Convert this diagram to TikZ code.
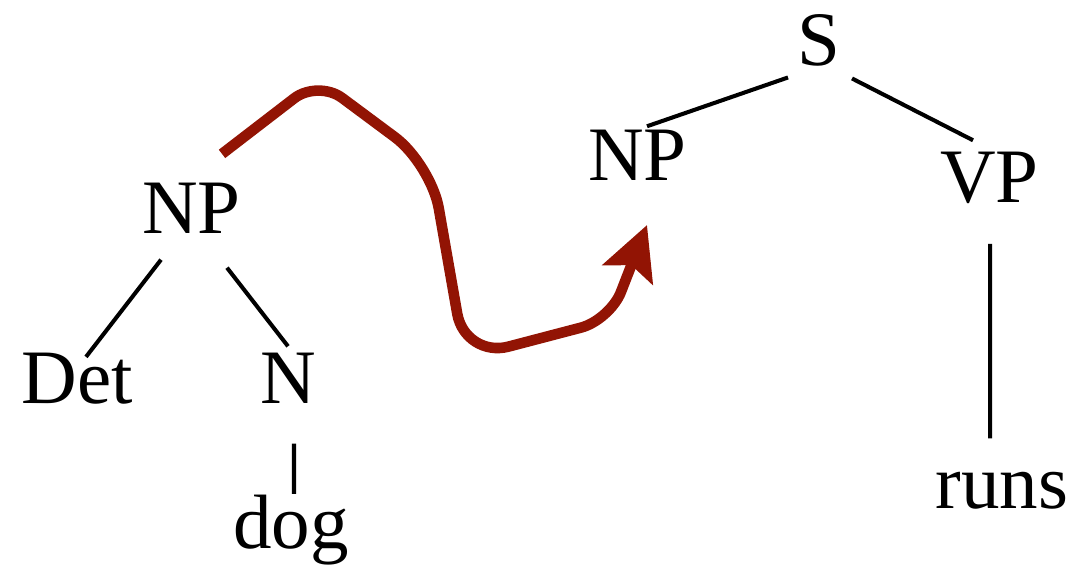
\documentclass[tikz,border=0pt]{standalone}
\usepackage{fontspec}
\setmainfont{Liberation Serif}
\usetikzlibrary{calc, arrows.meta}
\definecolor{movered}{RGB}{146,20,4}
\tikzset{
	cat/.style={font=\fontsize{21.9pt}{24pt}\selectfont, inner sep=0pt, anchor=base},
	branch/.style={line width=1.15pt, black},
	move/.style={line width=3pt, movered, rounded corners=0.3cm,
		-{Stealth[length=5.3mm, width=5.3mm, inset=1mm]}}
}

\begin{document}
\begin{tikzpicture}[x=0.01cm, y=-0.01cm]
	\useasboundingbox (0,0) rectangle (1083,566);
	
	% the moved subtree
	\node[cat] (NPL) at (191.5,233) {NP};
	\node[cat] (Det) at (77.5,403) {Det};
	\node[cat] (N) at (288.5,403) {N};
	\node[cat] (Dog) at (291,548) {dog};
	
	% the main tree
	\node[cat] (S) at (819,65) {S};
	\node[cat] (NPR) at (637.5,180) {NP};
	\node[cat] (VP) at (989.5,202) {VP};
	\node[cat] (Runs) at (1002,508) {runs};
	
	\draw[branch]
	($(NPL.south)+(-30.5,26)$) -- ($(Det.north)+(8.5,5)$)
	($(NPL.south)+(35.5,34)$) -- ($(N.north)+(-0.5,-5.6)$)
	($(N.south)+(5.5,40)$) -- ($(Dog.north)+(3,0)$)
	
	($(S.south)+(-31,11)$) -- ($(NPR.north)+(9.5,-2.6)$)
	($(S.south)+(33,12)$) -- ($(VP.north)+(-16.5,-10.6)$)
	($(VP.south)+(0.5,40)$) -- ($(Runs.north)+(-12,-32.6)$);
	
	\draw[move] ($(NPL.north)+(30.5,-28)$) -- (318,80) [rounded corners=0.45cm] -- (431,164)
	-- (465,358) [rounded corners=0.3cm] -- (610,320) -- ($(NPR.base)+(9.5,45)$);
\end{tikzpicture}
\end{document}
